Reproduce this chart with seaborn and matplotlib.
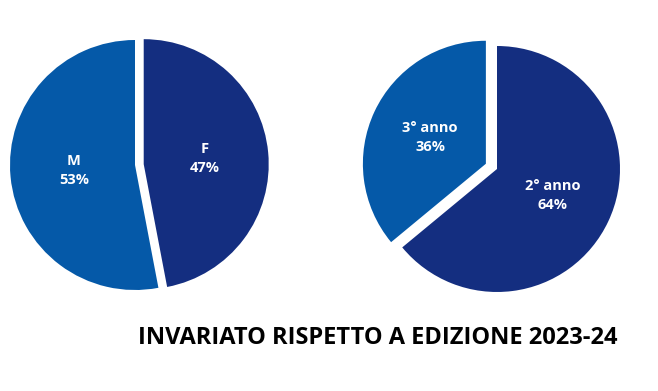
import matplotlib
matplotlib.use('Agg')
from matplotlib import pyplot as plt
import seaborn as sns

# data
gender_labels = ['F', 'M']
gender_values = [47, 53]
year_labels = ['2° anno', '3° anno']
year_values = [64, 36]
title_text = 'INVARIATO RISPETTO A EDIZIONE 2023-24'

navy = '#142E80'
blue = '#0559A8'

sns.set_theme(style='white')
plt.rcParams['font.family'] = ['Open Sans', 'DejaVu Sans']


def draw_pie(ax, labels, values, explode, colors, pctdist, xlim, ylim):
    """Clockwise pie starting at 12 o'clock, labels inside in white bold"""
    wedges, texts, autotexts = ax.pie(
        values, labels=None, colors=colors, explode=explode,
        startangle=90, counterclock=False, pctdistance=pctdist,
        autopct=lambda p: '', wedgeprops={'linewidth': 0})
    for lab, val, t in zip(labels, values, autotexts):
        t.set_text(f'{lab}\n{val}%')
        t.set_color('white')
        t.set_fontweight('bold')
        t.set_fontsize(10.5)
        t.set_linespacing(1.45)
        t.set_ha('center')
        t.set_va('center')
    ax.set_aspect('auto')
    ax.set_xlim(*xlim)
    ax.set_ylim(*ylim)
    ax.axis('off')
    return wedges


fig = plt.figure(figsize=(6.58, 3.91), dpi=100)
fig.patch.set_facecolor('white')

ax1 = fig.add_axes([0, 0, 0.5, 1])
draw_pie(ax1, gender_labels, gender_values, [0.07, 0], [navy, blue], 0.49,
         (-1.08, 1.552), (-1.808, 1.32))

ax2 = fig.add_axes([0.5, 0, 0.5, 1])
draw_pie(ax2, year_labels, year_values, [0, 0.1], [navy, blue], 0.5,
         (-1.366, 1.309), (-1.805, 1.374))

fig.text(378 / 658, 1 - 338 / 391, title_text, ha='center', va='center',
         fontsize=17, fontweight='bold', color='black')

fig.savefig('out.png', dpi=100)
